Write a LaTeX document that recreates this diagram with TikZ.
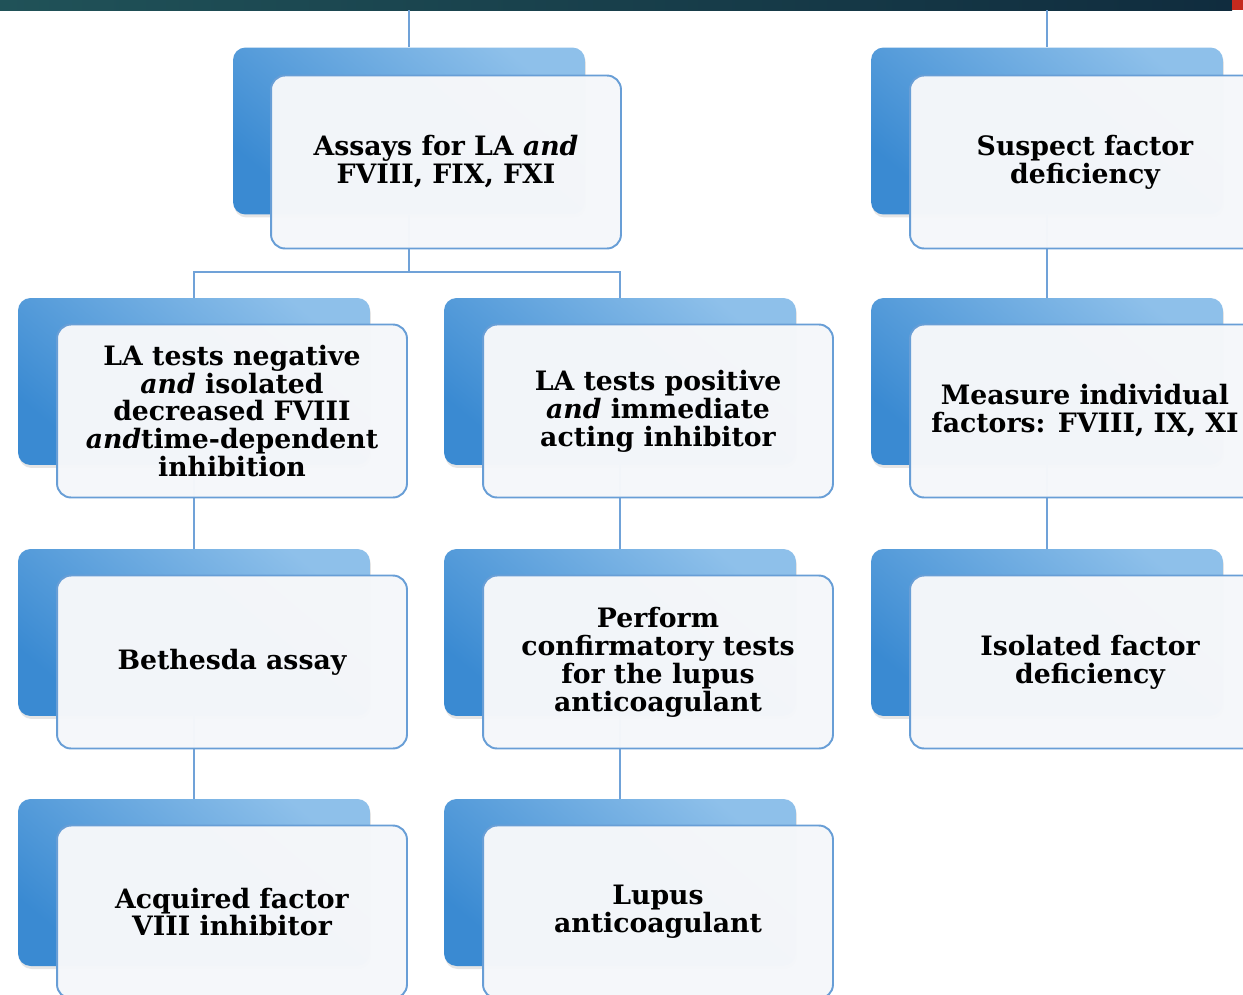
\documentclass[tikz,border=0pt]{standalone}
\usepackage{fontspec}
\setmainfont{DejaVu Serif}
\usetikzlibrary{shadows}

\definecolor{tabtop}{RGB}{142,192,234}
\definecolor{tabside}{RGB}{58,138,210}
\definecolor{boxline}{RGB}{104,158,214}
\definecolor{boxfill}{RGB}{245,247,250}
\definecolor{linkline}{RGB}{112,162,216}
\definecolor{barleft}{RGB}{32,82,88}
\definecolor{barright}{RGB}{16,44,62}
\definecolor{barred}{RGB}{196,42,30}

\begin{document}
\begin{tikzpicture}[x=0.02cm, y=-0.02cm,
    tab/.style={rounded corners=0.25cm, minimum width=7.04cm, minimum height=3.34cm,
      top color=tabtop, bottom color=tabside, shading angle=-40,
      drop shadow={opacity=0.2, shadow xshift=0.02cm, shadow yshift=-0.06cm}},
    box/.style={draw=boxline, line width=1.1pt, fill=boxfill, fill opacity=0.985, text opacity=1,
      rounded corners=0.28cm, minimum width=7cm, minimum height=3.46cm, align=center,
      font=\bfseries\fontsize{15.2}{15.9}\selectfont},
    link/.style={draw=linkline, line width=1.1pt}]
    \clip (0, 0) rectangle (1243, 994);
    \fill [white] (0, 0) rectangle (1243, 994);
    \fill [left color=barleft, right color=barright] (0, 0) rectangle (1232, 10);
    \fill [barred] (1232, 0) rectangle (1243, 10);
    % tabs behind the boxes
    \node [tab] (t0) at (409, 131) {};
    \node [tab] (t3) at (1047, 131) {};
    \node [tab] (t1) at (194, 381.5) {};
    \node [tab] (t2) at (620, 381.5) {};
    \node [tab] (t4) at (1047, 381.5) {};
    \node [tab] (t5) at (194, 632.5) {};
    \node [tab] (t6) at (620, 632.5) {};
    \node [tab] (t7) at (1047, 632.5) {};
    \node [tab] (t8) at (194, 882.5) {};
    \node [tab] (t9) at (620, 882.5) {};
    \coordinate (c0) at (409, 10);
    \coordinate (c1) at (1047, 10);
    \coordinate (split) at (409, 272);
    % links
    \draw [link] (c0) to (t0.north);
    \draw [link] (c1) to (t3.north);
    \draw [link] (t0.south) to (split);
    \draw [link] (split) -| (t1.north);
    \draw [link] (split) -| (t2.north);
    \draw [link] (t1.south) to (t5.north);
    \draw [link] (t5.south) to (t8.north);
    \draw [link] (t2.south) to (t6.north);
    \draw [link] (t6.south) to (t9.north);
    \draw [link] (t3.south) to (t4.north);
    \draw [link] (t4.south) to (t7.north);
    % boxes
    \node [box] (b0) at (446, 162) {Assays for LA \textit{and}\\FVIII, FIX, FXI};
    \node [box] (b3) at (1085, 162) {Suspect factor\\deficiency};
    \node [box] (b1) at (232, 411) {LA tests negative\\\textit{and} isolated\\decreased FVIII\\\textit{and}time-dependent\\inhibition};
    \node [box] (b2) at (658, 411) {LA tests positive\\\textit{and} immediate\\acting inhibitor};
    \node [box] (b4) at (1085, 411) {Measure individual\\factors: FVIII, IX, XI};
    \node [box] (b5) at (232, 662) {Bethesda assay};
    \node [box] (b6) at (658, 662) {Perform\\confirmatory tests\\for the lupus\\anticoagulant};
    \node [box] (b7) at (1085, 662) {\hspace{0.2cm}Isolated factor\\\hspace{0.2cm}deficiency};
    \node [box] (b8) at (232, 912) {Acquired factor\\VIII inhibitor};
    \node [box] (b9) at (658, 912) {Lupus\\anticoagulant};
  \end{tikzpicture}
\end{document}
